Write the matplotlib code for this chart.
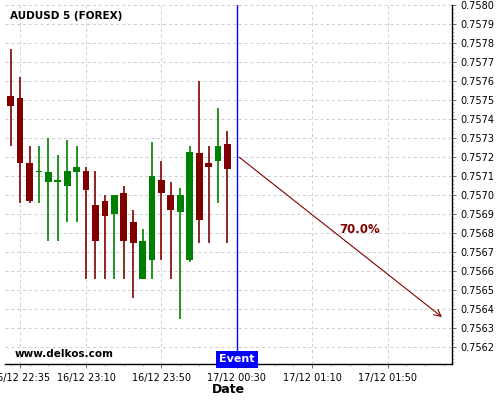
import matplotlib
matplotlib.use('Agg')
import matplotlib.pyplot as plt
import matplotlib.dates as mdates
import pandas as pd

# 5 minute candles, AUDUSD
times = ['2021-12-16 22:30', '2021-12-16 22:35', '2021-12-16 22:40', '2021-12-16 22:45',
         '2021-12-16 22:50', '2021-12-16 22:55', '2021-12-16 23:00', '2021-12-16 23:05',
         '2021-12-16 23:10', '2021-12-16 23:15', '2021-12-16 23:20', '2021-12-16 23:25',
         '2021-12-16 23:30', '2021-12-16 23:35', '2021-12-16 23:40', '2021-12-16 23:45',
         '2021-12-16 23:50', '2021-12-16 23:55', '2021-12-17 00:00', '2021-12-17 00:05',
         '2021-12-17 00:10', '2021-12-17 00:15', '2021-12-17 00:20', '2021-12-17 00:25']
opens = [0.75752, 0.75751, 0.75717, 0.75712, 0.75707, 0.75707, 0.75705, 0.75712,
         0.75713, 0.75695, 0.75697, 0.75690, 0.75701, 0.75686, 0.75656, 0.75666,
         0.75708, 0.75700, 0.75691, 0.75666, 0.75722, 0.75717, 0.75718, 0.75727]
highs = [0.75777, 0.75762, 0.75726, 0.75726, 0.75730, 0.75721, 0.75729, 0.75726,
         0.75715, 0.75713, 0.75700, 0.75700, 0.75705, 0.75692, 0.75682, 0.75728,
         0.75718, 0.75707, 0.75704, 0.75726, 0.75760, 0.75726, 0.75746, 0.75734]
lows = [0.75726, 0.75696, 0.75696, 0.75696, 0.75676, 0.75676, 0.75686, 0.75686,
        0.75656, 0.75656, 0.75656, 0.75656, 0.75656, 0.75646, 0.75656, 0.75656,
        0.75666, 0.75656, 0.75635, 0.75665, 0.75675, 0.75675, 0.75696, 0.75675]
closes = [0.75747, 0.75717, 0.75697, 0.75713, 0.75712, 0.75707, 0.75713, 0.75715,
          0.75703, 0.75676, 0.75689, 0.75700, 0.75676, 0.75675, 0.75676, 0.75710,
          0.75701, 0.75692, 0.75700, 0.75723, 0.75687, 0.75715, 0.75726, 0.75714]

event_time = '2021-12-17 00:30'
arrow_end_time = '2021-12-17 02:20'
arrow_start_price = 0.75721
arrow_end_price = 0.75635
label_time = '2021-12-17 01:35'
label_price = 0.75682
percent_text = '70.0%'

xtick_times = ['2021-12-16 22:35', '2021-12-16 23:10', '2021-12-16 23:50',
               '2021-12-17 00:30', '2021-12-17 01:10', '2021-12-17 01:50']
x_min, x_max = '2021-12-16 22:27', '2021-12-17 02:24'
y_min, y_max = 0.75611, 0.7580

red = '#800000'
green = '#008000'

t = mdates.date2num(pd.to_datetime(times))
five_min = 5 / (24 * 60)

fig = plt.figure(figsize=(5, 4), dpi=100)
ax = fig.add_axes([0.01, 0.089, 0.8934, 0.898])

for x, o, h, l, c in zip(t, opens, highs, lows, closes):
    col = green if c >= o else red
    ax.vlines(x, l, h, color=col, linewidth=1.2, zorder=2)
    bottom = min(o, c)
    height = max(abs(c - o), 0.000008)
    ax.bar(x, height, bottom=bottom, width=five_min * 0.72, color=col, zorder=3)

ev = mdates.date2num(pd.Timestamp(event_time))
ax.axvline(ev, color='#0000ff', linewidth=1.0, zorder=4)

ax.annotate('', xy=(mdates.date2num(pd.Timestamp(arrow_end_time)), arrow_end_price),
            xytext=(ev, arrow_start_price),
            arrowprops=dict(arrowstyle='->', color=red, lw=0.8, mutation_scale=12))
ax.text(mdates.date2num(pd.Timestamp(label_time)), label_price, percent_text,
        color=red, fontsize=8.5, fontweight='bold', ha='center', va='center')

ax.set_xlim(mdates.date2num(pd.Timestamp(x_min)), mdates.date2num(pd.Timestamp(x_max)))
ax.set_ylim(y_min, y_max)

ax.set_xticks(mdates.date2num(pd.to_datetime(xtick_times)))
ax.xaxis.set_major_formatter(mdates.DateFormatter('%d/%m %H:%M'))
ax.xaxis.set_minor_locator(mdates.MinuteLocator(byminute=range(0, 60, 10)))
ax.yaxis.tick_right()
ax.set_yticks([0.7562 + i * 0.0001 for i in range(19)])
ax.yaxis.set_major_formatter(matplotlib.ticker.FormatStrFormatter('%.4f'))
ax.yaxis.set_minor_locator(matplotlib.ticker.MultipleLocator(0.00002))
ax.tick_params(axis='both', labelsize=7, length=3, width=0.6, color='#555555')
ax.tick_params(axis='both', which='minor', length=1.5, width=0.5, color='#999999')
ax.tick_params(axis='x', pad=3)

for s in ['left', 'top']:
    ax.spines[s].set_visible(False)
ax.spines['right'].set_linewidth(1.0)
ax.spines['bottom'].set_linewidth(1.0)

ax.grid(True, color='#cccccc', linestyle=(0, (3, 3)), linewidth=0.7, zorder=0)
ax.set_axisbelow(True)

ax.set_xlabel('Date', fontsize=9, fontweight='bold', labelpad=0)

ax.text(0.011, 0.969, 'AUDUSD 5 (FOREX)', transform=ax.transAxes,
        fontsize=7.5, fontweight='bold', ha='left', va='center')
ax.text(0.022, 0.028, 'www.delkos.com', transform=ax.transAxes,
        fontsize=7.5, fontweight='bold', ha='left', va='center')
ax.text(ev, y_min, 'Event', color='white', fontsize=8, fontweight='bold',
        ha='center', va='bottom', zorder=5,
        bbox=dict(boxstyle='square,pad=0.3', facecolor='#0000ff', edgecolor='none'))

fig.savefig('out.png', dpi=100)
